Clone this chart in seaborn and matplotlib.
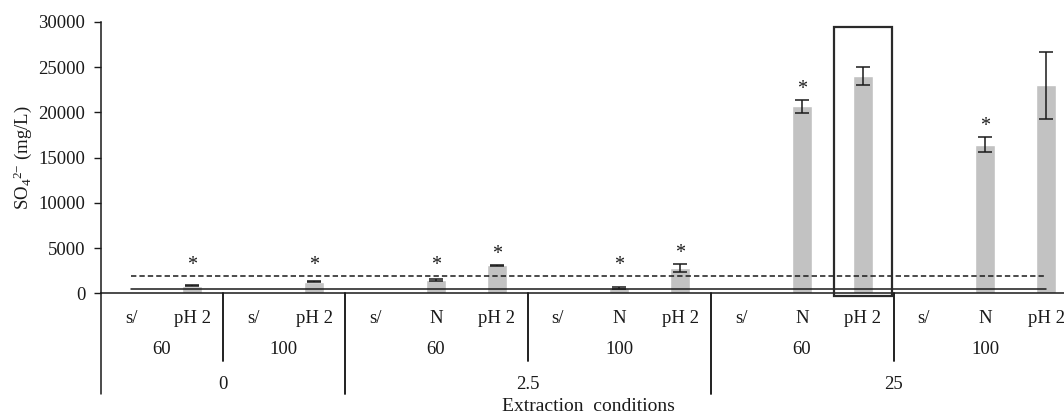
import numpy as np
import pandas as pd
import matplotlib
matplotlib.use("Agg")
import matplotlib.pyplot as plt
import matplotlib.transforms as mtransforms
import seaborn as sns

# ---------------- data ----------------
level3 = ['0', '0', '0', '0',
          '2.5', '2.5', '2.5', '2.5', '2.5', '2.5',
          '25', '25', '25', '25', '25', '25']
level2 = ['60', '60', '100', '100',
          '60', '60', '60', '100', '100', '100',
          '60', '60', '60', '100', '100', '100']
level1 = ['s/', 'pH 2', 's/', 'pH 2',
          's/', 'N', 'pH 2', 's/', 'N', 'pH 2',
          's/', 'N', 'pH 2', 's/', 'N', 'pH 2']
so4 = [0, 850, 0, 1300,
       0, 1440, 3100, 0, 580, 2800,
       0, 20700, 24000, 0, 16450, 23000]
so4_err = [0, 80, 0, 100,
           0, 130, 80, 0, 80, 460,
           0, 720, 1000, 0, 870, 3700]
significant = [False, True, False, True,
               False, True, True, False, True, True,
               False, True, False, False, True, False]
limit_solid = 450
limit_dashed = 1900
highlight_index = 12

# ---------------- style ----------------
sns.set_theme(style="ticks")
plt.rcParams['font.family'] = ['Liberation Serif', 'DejaVu Serif']
plt.rcParams['mathtext.fontset'] = 'custom'
plt.rcParams['mathtext.rm'] = 'Liberation Serif'
plt.rcParams['mathtext.it'] = 'Liberation Serif:italic'
FS = 13.5
TXT = '#1a1a1a'

keys = [f"{a}|{b}|{c}|{i}" for i, (a, b, c) in enumerate(zip(level3, level2, level1))]
df = pd.DataFrame({'key': keys, 'so4': so4})

fig = plt.figure(figsize=(10.64, 4.16), dpi=100)
ax = fig.add_axes([100.5 / 1064, (416 - 293.3) / 416, 976 / 1064, (293.3 - 22) / 416])

sns.barplot(data=df, x='key', y='so4', order=keys, color='#c2c2c2',
            width=0.34, errorbar=None, ax=ax, saturation=1, zorder=2)
xpos = np.arange(len(keys))
err = np.array(so4_err, dtype=float)
vals = np.array(so4, dtype=float)
mask = err > 0
ax.errorbar(xpos[mask], vals[mask], yerr=err[mask], fmt='none', ecolor='#1a1a1a',
            elinewidth=1.1, capsize=5, capthick=1.1, zorder=3)

# limit lines across categories
ax.plot([xpos[0], xpos[-1]], [limit_solid] * 2, color='#1a1a1a', lw=1.1, zorder=4)
ax.plot([xpos[0], xpos[-1]], [limit_dashed] * 2, color='#1a1a1a', lw=1.1,
        ls=(0, (3.5, 2)), zorder=4)

# asterisks
for i in range(len(keys)):
    if significant[i]:
        top = vals[i] + err[i]
        y = max(top + 1100, 3050)
        ax.text(xpos[i], y, '*', ha='center', va='center', fontsize=FS + 1,
                color=TXT, zorder=5)

# highlight box
h = highlight_index
ax.add_patch(plt.Rectangle((h - 0.48, -250), 0.96, 29650, fill=False,
                           edgecolor='#2a2a2a', lw=1.6, clip_on=False, zorder=6))

ax.set_xlim(-0.5, len(keys) - 0.5)
ax.set_ylim(0, 30000)
ax.set_yticks(np.arange(0, 30001, 5000))
ax.set_yticklabels([str(v) for v in range(0, 30001, 5000)], fontsize=FS, color=TXT)
ax.tick_params(axis='y', length=5, width=1, color='#1a1a1a', pad=6)
ax.set_xticks([])
ax.set_xlabel('')
ax.set_ylabel(r'SO$_4$$^{2\mathrm{-}}$ (mg/L)', fontsize=FS, color=TXT)
ax.yaxis.set_label_coords(-0.068, 0.5)
for s in ['top', 'right']:
    ax.spines[s].set_visible(False)
for s in ['left', 'bottom']:
    ax.spines[s].set_color('#1a1a1a')
    ax.spines[s].set_linewidth(1.1)

trans = mtransforms.blended_transform_factory(ax.transData, ax.transAxes)

# level-1 labels
for i, lab in enumerate(level1):
    ax.text(xpos[i], -0.092, lab, transform=trans, ha='center', va='center',
            fontsize=FS, color=TXT)

def groups(labels_outer, labels_inner=None):
    out = []
    start = 0
    n = len(labels_outer)
    for i in range(1, n + 1):
        if i == n or labels_outer[i] != labels_outer[start] or \
                (labels_inner is not None and labels_inner[i] != labels_inner[start]):
            out.append((start, i - 1))
            start = i
    return out

g2 = groups(level2, level3)
g3 = groups(level3)
for a, b in g2:
    ax.text((a + b) / 2, -0.208, level2[a], transform=trans, ha='center',
            va='center', fontsize=FS, color=TXT)
for a, b in g3:
    ax.text((a + b) / 2, -0.335, level3[a], transform=trans, ha='center',
            va='center', fontsize=FS, color=TXT)

g3_bounds = set([a for a, b in g3] + [g3[-1][1] + 1])
for a, b in g2:
    for edge in (a, b + 1):
        if edge in g3_bounds:
            ax.plot([edge - 0.5] * 2, [0, -0.373], transform=trans, color='#1a1a1a',
                    lw=1.1, clip_on=False)
        else:
            ax.plot([edge - 0.5] * 2, [0, -0.248], transform=trans, color='#1a1a1a',
                    lw=1.1, clip_on=False)

ax.text(0.5, -0.418, 'Extraction  conditions', transform=ax.transAxes, ha='center',
        va='center', fontsize=FS + 0.5, color=TXT)

fig.savefig('out.png', dpi=100)
